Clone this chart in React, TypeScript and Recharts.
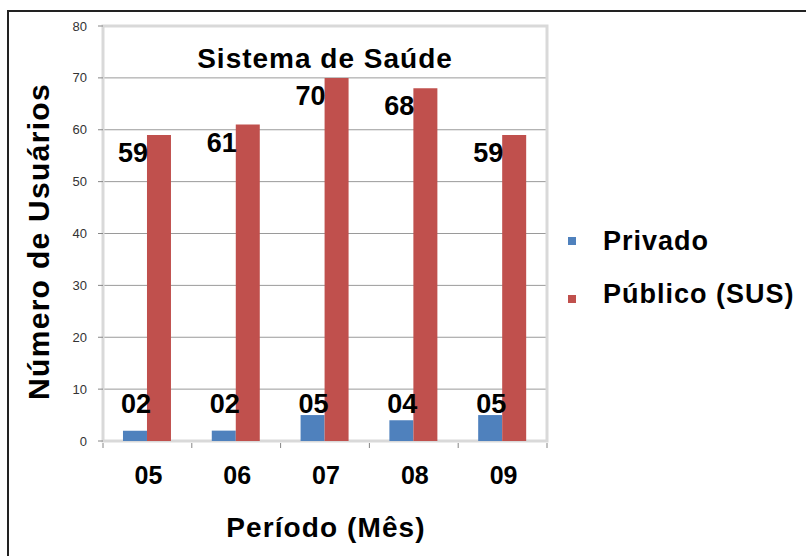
import React from 'react';
import { BarChart, Bar, XAxis, YAxis, CartesianGrid, Legend, ReferenceArea, LabelList } from 'recharts';

const months = ['05', '06', '07', '08', '09'];
const privado = [2, 2, 5, 4, 5];
const publico = [59, 61, 70, 68, 59];
const privadoLabels = ['02', '02', '05', '04', '05'];
const publicoLabels = ['59', '61', '70', '68', '59'];
const yTicks = [0, 10, 20, 30, 40, 50, 60, 70, 80];
const gridValues = [10, 20, 30, 40, 50, 60, 70];

const data = months.map((m, i) => ({
  month: m,
  privado: privado[i],
  publico: publico[i],
  privadoLabel: privadoLabels[i],
  publicoLabel: publicoLabels[i],
}));

const FONT = '"Liberation Sans", Arial, sans-serif';

const BlueLabel = (props: any) => {
  const { x, y, width, height, value } = props;
  return (
    <text x={Number(x) + Number(width) / 2 + 1} y={Number(y) + Number(height) - 28} textAnchor="middle"
      fontSize={27} fontWeight="bold" fill="#000" fontFamily={FONT}>{value}</text>
  );
};

const RedLabel = (props: any) => {
  const { x, y, value } = props;
  return (
    <text x={Number(x) + 1} y={Number(y) + 27} textAnchor="end"
      fontSize={27} fontWeight="bold" fill="#000" fontFamily={FONT}>{value}</text>
  );
};

const XTick = (props: any) => {
  const { x, y, payload, index } = props;
  const off = payload && typeof payload.offset === 'number' && payload.offset > 0 ? payload.offset : 44.4;
  return (
    <g>
      <line x1={x - off} x2={x - off} y1={y + 2} y2={y + 7} stroke="#868686" />
      {index === months.length - 1 && <line x1={x + off} x2={x + off} y1={y + 2} y2={y + 7} stroke="#868686" />}
      <text x={x + 1} y={y + 43} textAnchor="middle" fontSize={25} fontWeight="bold" fill="#000" fontFamily={FONT}>
        {payload.value}
      </text>
    </g>
  );
};

const XTitle = (props: any) => {
  const vb = props.viewBox || {};
  return (
    <text x={vb.x + vb.width / 2 + 1} y={vb.y + 96} textAnchor="middle" fontSize={28} fontWeight="bold"
      letterSpacing={1.1} fill="#000" fontFamily={FONT}>Período (Mês)</text>
  );
};

const YTitle = (props: any) => {
  const vb = props.viewBox || {};
  const cx = vb.x + 49;
  const cy = vb.y + vb.height / 2 + 8;
  return (
    <text x={cx} y={cy} transform={`rotate(-90, ${cx}, ${cy})`} textAnchor="middle" fontSize={30}
      fontWeight="bold" letterSpacing={1.3} fill="#000" fontFamily={FONT}>Número de Usuários</text>
  );
};

const Title = (props: any) => {
  const vb = props.viewBox || {};
  return (
    <text x={vb.x + vb.width / 2} y={vb.y + 42} textAnchor="middle" fontSize={28} fontWeight="bold"
      letterSpacing={1} fill="#000" fontFamily={FONT}>Sistema de Saúde</text>
  );
};

const LegendContent = (props: any) => {
  const payload = props.payload || [];
  return (
    <svg width={246} height={110} style={{ display: 'block' }}>
      {payload.map((p: any, i: number) => (
        <g key={i}>
          <rect x={8} y={17 + 58 * i} width={8} height={8} fill={p.color} />
          <text x={43} y={30 + 53 * i} fontSize={27} fontWeight="bold" letterSpacing={1} fill="#000" fontFamily={FONT}>
            {p.value}
          </text>
        </g>
      ))}
    </svg>
  );
};

export default function App() {
  return (
    <div style={{ position: 'absolute', left: 0, top: 0, width: 806, height: 556, overflow: 'hidden', background: '#fff', fontFamily: FONT }}>
      <div style={{ position: 'absolute', left: 7, top: 10, width: 900, height: 700, border: '2px solid #222' }} />
      <div style={{ position: 'absolute', left: 0, top: 0 }}>
        <BarChart width={806} height={556} data={data} margin={{ top: 26, right: 259, bottom: 0, left: 0 }}
          barCategoryGap="22.5%" barGap={0}>
          <CartesianGrid vertical={false} horizontalValues={gridValues} stroke="#9a9a9a" strokeWidth={1} />
          <ReferenceArea y1={0} y2={80} fill="none" stroke="#d9d9d9" strokeWidth={3} label={Title} ifOverflow="visible" />
          <XAxis dataKey="month" height={115} interval={0} tickLine={false} axisLine={false} tickSize={0} tickMargin={0}
            tick={XTick} label={XTitle} />
          <YAxis domain={[0, 80]} ticks={yTicks} width={103} tickSize={5} tickMargin={11} axisLine={false}
            tickLine={{ stroke: '#868686' }} tick={{ fontSize: 13, fill: '#333', fontFamily: FONT }} label={YTitle} />
          <Legend align="center" verticalAlign="middle" layout="vertical" content={LegendContent}
            wrapperStyle={{ left: 560, top: 220, width: 246, height: 110 }} />
          <Bar dataKey="privado" name="Privado" fill="#4f81bd" isAnimationActive={false}>
            <LabelList dataKey="privadoLabel" content={BlueLabel} />
          </Bar>
          <Bar dataKey="publico" name="Público (SUS)" fill="#c0504d" isAnimationActive={false}>
            <LabelList dataKey="publicoLabel" content={RedLabel} />
          </Bar>
        </BarChart>
      </div>
    </div>
  );
}
